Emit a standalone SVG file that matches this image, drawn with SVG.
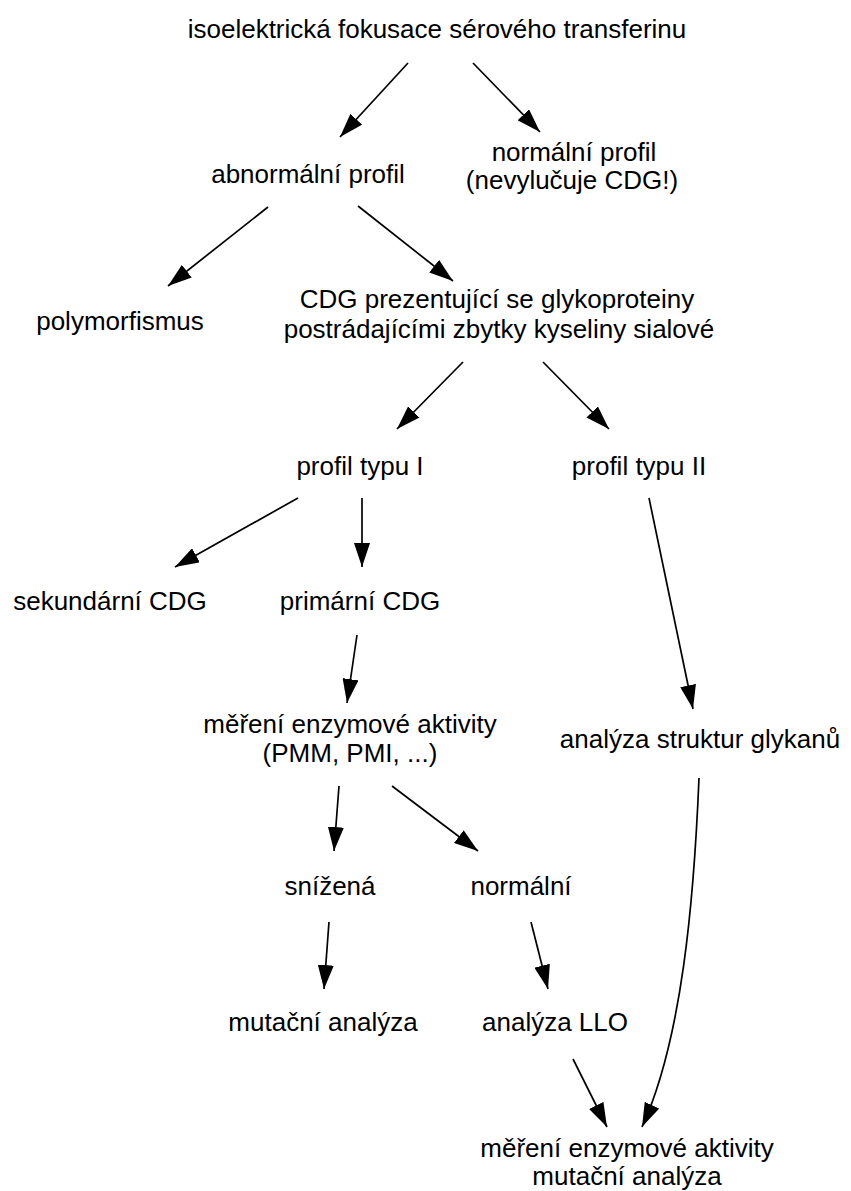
<svg xmlns="http://www.w3.org/2000/svg" width="851" height="1191" viewBox="0 0 851 1191">
<style>
text{font-family:"Liberation Sans",Arial,Helvetica,sans-serif;font-size:26px;fill:#000;text-anchor:middle}
.c{fill:none;stroke:#000;stroke-width:1.7}
</style>
<defs>
<marker id="ah" markerUnits="userSpaceOnUse" markerWidth="24" markerHeight="16" refX="24" refY="8" orient="auto">
<path d="M0,0 L24,8 L0,16 z" fill="#000"/>
</marker>
</defs>
<rect width="851" height="1191" fill="#fff"/>
<g id="connectors">
<path class="c" marker-end="url(#ah)" d="M408,63 L340,137"/>
<path class="c" marker-end="url(#ah)" d="M473,63 L540,132"/>
<path class="c" marker-end="url(#ah)" d="M268,207 L168,286"/>
<path class="c" marker-end="url(#ah)" d="M358,206 L453,281"/>
<path class="c" marker-end="url(#ah)" d="M463,362 L397,429"/>
<path class="c" marker-end="url(#ah)" d="M543,362 L609,429"/>
<path class="c" marker-end="url(#ah)" d="M298,498 L175,567"/>
<path class="c" marker-end="url(#ah)" d="M362,498 L362,567"/>
<path class="c" marker-end="url(#ah)" d="M649,498 L693,709"/>
<path class="c" marker-end="url(#ah)" d="M357,635 L347,703"/>
<path class="c" marker-end="url(#ah)" d="M339,786 L334,851"/>
<path class="c" marker-end="url(#ah)" d="M392,786 L478,851"/>
<path class="c" marker-end="url(#ah)" d="M329,922 L324,989"/>
<path class="c" marker-end="url(#ah)" d="M531,922 L548,989"/>
<path class="c" marker-end="url(#ah)" d="M573,1059 L607,1127"/>
<path class="c" marker-end="url(#ah)" d="M699,778 C694,900 682,1040 642,1127"/>
</g>
<g id="n-ief"><text x="437" y="38">isoelektrická fokusace sérového transferinu</text></g>
<g id="n-abnormal"><text x="308" y="183">abnormální profil</text></g>
<g id="n-normal"><text x="574" y="161">normální profil</text><text x="572" y="189">(nevylučuje CDG!)</text></g>
<g id="n-polymorf"><text x="120" y="330">polymorfismus</text></g>
<g id="n-cdg"><text x="497" y="308">CDG prezentující se glykoproteiny</text><text x="499" y="338">postrádajícími zbytky kyseliny sialové</text></g>
<g id="n-typ1"><text x="360" y="475">profil typu I</text></g>
<g id="n-typ2"><text x="639" y="475">profil typu II</text></g>
<g id="n-sek"><text x="110" y="610">sekundární CDG</text></g>
<g id="n-prim"><text x="360" y="610">primární CDG</text></g>
<g id="n-mereni"><text x="350" y="733">měření enzymové aktivity</text><text x="350" y="762">(PMM, PMI, ...)</text></g>
<g id="n-glykany"><text x="700" y="748">analýza struktur glykanů</text></g>
<g id="n-snizena"><text x="330" y="895">snížená</text></g>
<g id="n-normalni"><text x="521" y="895">normální</text></g>
<g id="n-mutacni"><text x="323" y="1031">mutační analýza</text></g>
<g id="n-llo"><text x="555" y="1031">analýza LLO</text></g>
<g id="n-final"><text x="627" y="1157">měření enzymové aktivity</text><text x="627" y="1185">mutační analýza</text></g>
</svg>
